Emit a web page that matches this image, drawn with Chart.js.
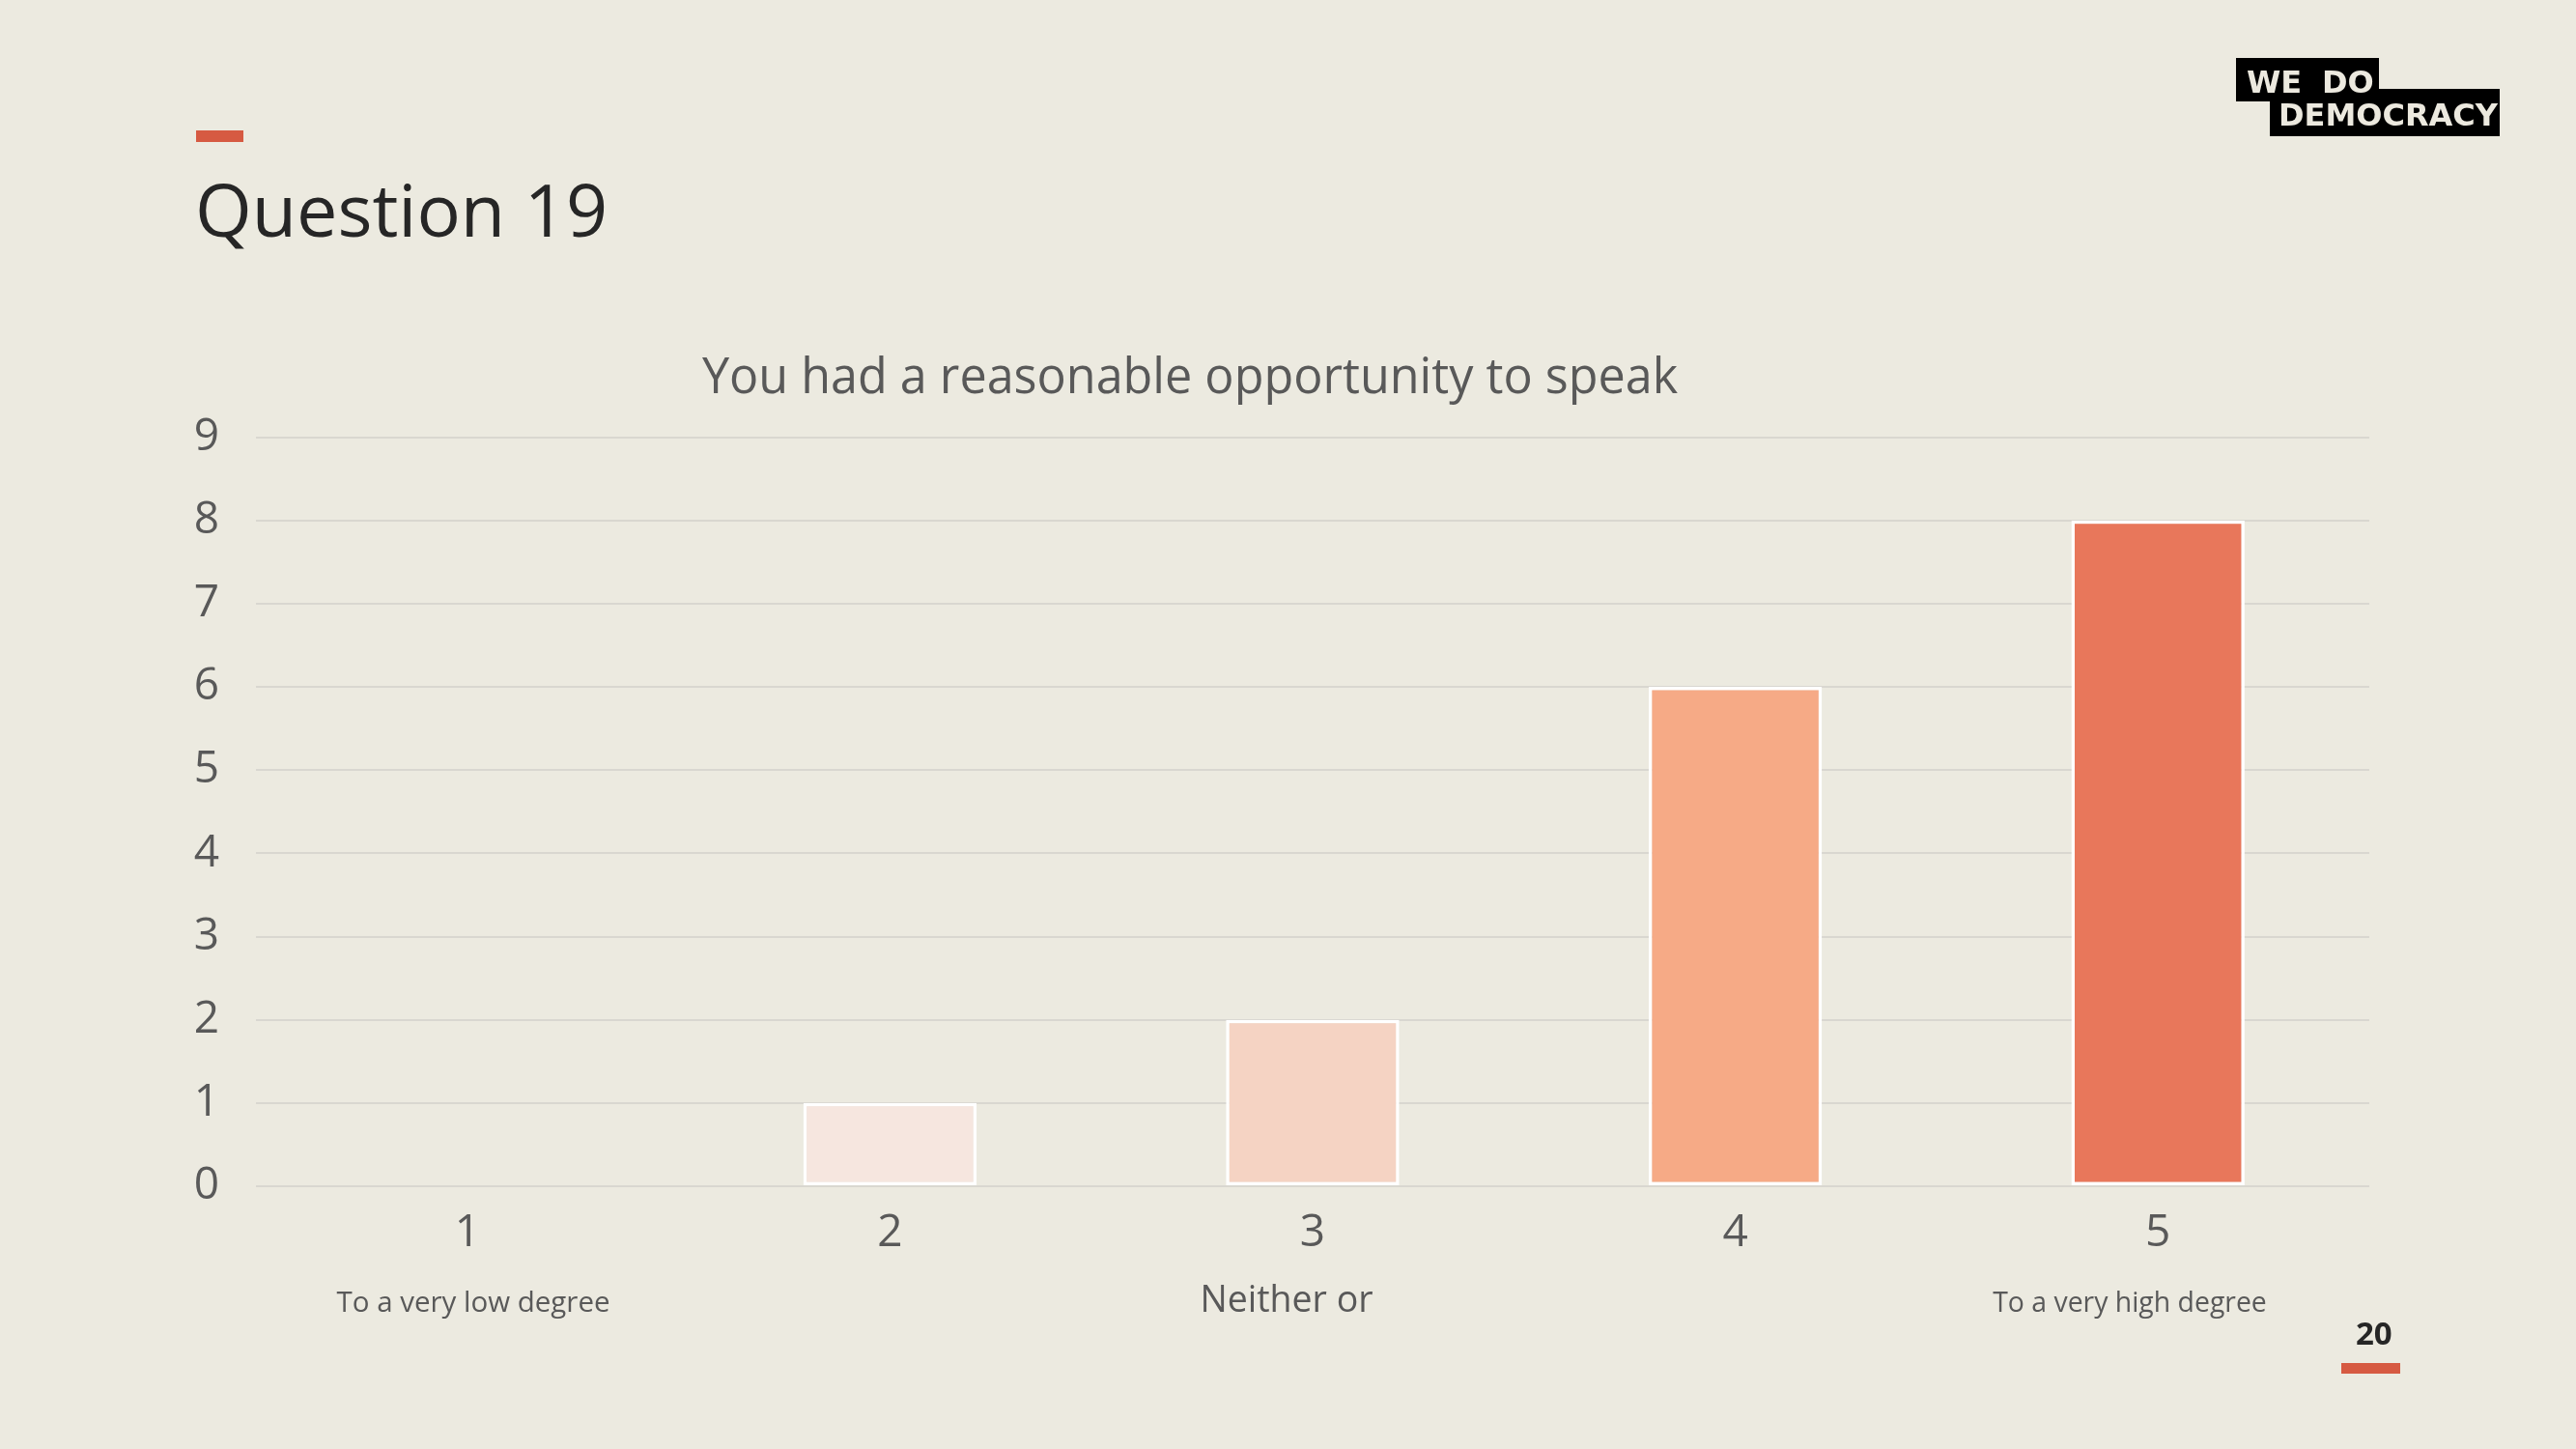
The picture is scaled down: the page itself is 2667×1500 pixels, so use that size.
<!DOCTYPE html>
<html>
<head>
<meta charset="utf-8">
<script src="https://cdn.jsdelivr.net/npm/chart.js@4.4.1/dist/chart.umd.min.js"></script>
<style>
  html, body { margin: 0; padding: 0; }
  body { width: 2667px; height: 1500px; background: #ECEAE0; position: relative; overflow: hidden; font-family: "Open Sans", sans-serif; }
  .abs { position: absolute; line-height: 1; white-space: nowrap; }
  #chartCanvas { position: absolute; left: 0; top: 0; }
  .accent { position: absolute; background: #D65A42; }
  .logoBox { position: absolute; background: #000; }
  .logoTxt { position: absolute; line-height: 1; font-family: "DejaVu Sans", sans-serif; font-weight: bold; font-size: 32px; color: #ECE9DF; white-space: nowrap; }
  .sub { position: absolute; width: 600px; text-align: center; line-height: 1; color: #595959; white-space: nowrap; }
</style>
</head>
<body>
<canvas id="chartCanvas" width="2464" height="1340"></canvas>

<div class="accent" style="left:203px; top:135px; width:49px; height:12px;"></div>
<div class="abs" style="left:202px; top:178px; font-size:75.5px; color:#262626;">Question 19</div>

<div class="logoBox" style="left:2315px; top:60px; width:148px; height:45px;"></div>
<div class="logoBox" style="left:2350px; top:92px; width:238px; height:49px;"></div>
<div class="logoTxt" style="left:2326px; top:69px;">WE</div>
<div class="logoTxt" style="left:2404px; top:69px;">DO</div>
<div class="logoTxt" style="left:2359px; top:103px;">DEMOCRACY</div>

<div id="subLow" class="sub" style="left:190px; top:1332px; font-size:29.5px;"></div>
<div id="subMid" class="sub" style="left:1032px; top:1325px; font-size:37.5px;"></div>
<div id="subHigh" class="sub" style="left:1905px; top:1333px; font-size:28.4px;"></div>

<div class="abs" style="left:2439px; top:1363px; font-size:33px; font-weight:bold; color:#262626;">20</div>
<div class="accent" style="left:2424px; top:1411px; width:61px; height:11px;"></div>

<script>
// ---- Data ----
const categories = ['1', '2', '3', '4', '5'];
const responses = [0, 1, 2, 6, 8];
const yMin = 0;
const yMax = 9;
const yStep = 1;
const chartTitle = 'You had a reasonable opportunity to speak';
const scaleEndLabels = ['To a very low degree', 'Neither or', 'To a very high degree'];

// ---- Styles ----
const barColors = ['#F8EFEA', '#F6E6DF', '#F5D3C3', '#F6AA86', '#E8775B'];

document.getElementById('subLow').textContent = scaleEndLabels[0];
document.getElementById('subMid').textContent = scaleEndLabels[1];
document.getElementById('subHigh').textContent = scaleEndLabels[2];

function draw() {
  const ctx = document.getElementById('chartCanvas').getContext('2d');
  new Chart(ctx, {
    type: 'bar',
    data: {
      labels: categories,
      datasets: [{
        data: responses,
        backgroundColor: barColors,
        borderColor: '#FFFFFF',
        borderWidth: 3.5,
        borderSkipped: false,
        barPercentage: 0.41,
        categoryPercentage: 1.0
      }]
    },
    options: {
      responsive: false,
      devicePixelRatio: 1,
      animation: false,
      layout: { padding: { top: 0, right: 11, bottom: 0, left: 11 } },
      plugins: {
        legend: { display: false },
        tooltip: { enabled: false },
        title: {
          display: true,
          text: chartTitle,
          color: '#595959',
          font: { family: '"Open Sans"', size: 50.3, weight: 'normal', lineHeight: 1.2 },
          padding: { top: 362, bottom: 30.3 }
        }
      },
      scales: {
        x: {
          grid: { display: false, drawTicks: false },
          border: { display: false },
          ticks: {
            color: '#595959',
            font: { family: '"Open Sans"', size: 46 },
            padding: 21,
            maxRotation: 0
          },
          afterFit: (s) => { s.height = 112; }
        },
        y: {
          min: yMin,
          max: yMax,
          grid: { color: '#D9D7D0', lineWidth: 2, drawTicks: false },
          border: { display: false },
          ticks: {
            stepSize: yStep,
            color: '#595959',
            font: { family: '"Open Sans"', size: 46 },
            padding: 38
          },
          afterFit: (s) => { s.width = 254; }
        }
      }
    }
  });
}

if (document.fonts && document.fonts.load) {
  Promise.all([
    document.fonts.load('46px "Open Sans"'),
    document.fonts.load('50px "Open Sans"')
  ]).then(draw, draw);
} else {
  draw();
}
</script>
</body>
</html>
